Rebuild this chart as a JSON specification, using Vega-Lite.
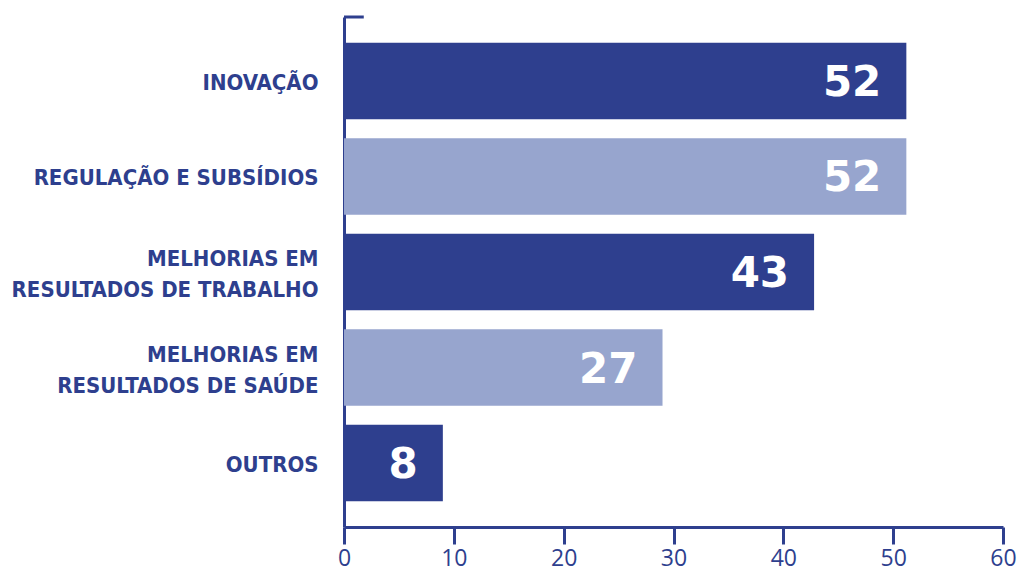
{
  "$schema": "https://vega.github.io/schema/vega-lite/v6.json",
  "width": 659,
  "height": 510,
  "autosize": {"type": "none"},
  "padding": {"left": 344, "top": 17, "right": 18, "bottom": 45},
  "background": "white",
  "config": {"view": {"stroke": null}},
  "data": {"values": [
    {"cat": "INOVAÇÃO", "value": 51.2, "label": "52"},
    {"cat": "REGULAÇÃO E SUBSÍDIOS", "value": 51.2, "label": "52"},
    {"cat": "MELHORIAS EM \nRESULTADOS DE TRABALHO", "value": 42.8, "label": "43"},
    {"cat": "MELHORIAS EM \nRESULTADOS DE SAÚDE", "value": 29, "label": "27"},
    {"cat": "OUTROS", "value": 9, "label": "8"}
  ]},
  "resolve": {"scale": {"y": "independent"}},
  "layer": [
    {
      "layer": [
        {
          "mark": {"type": "bar"},
          "encoding": {
            "y": {"field": "cat", "type": "nominal", "sort": null,
              "scale": {"paddingInner": 0.2, "paddingOuter": 0.27},
              "axis": {"title": null, "labelExpr": "split(datum.label, '\\n')", "labelFont": "DejaVu Sans Condensed", "labelFontSize": 22, "labelFontWeight": "bold", "labelColor": "#2e3f8e", "labelLineHeight": 31, "ticks": false, "labelPadding": 26, "domainColor": "#2e3f8e", "domainWidth": 3, "labelLimit": 400,
                "labelOffset": {"condition": {"test": "indexof(datum.value, '\\n') >= 0", "value": -13}, "value": 2}}},
            "x": {"field": "value", "type": "quantitative",
              "scale": {"domain": [0, 60], "nice": false},
              "axis": {"title": null, "values": [0, 10, 20, 30, 40, 50, 60], "grid": false, "labelFont": "Open Sans", "labelFontSize": 23, "labelColor": "#2e3f8e", "tickColor": "#2e3f8e", "tickWidth": 3, "tickSize": 17, "labelPadding": 3, "domainColor": "#2e3f8e", "domainWidth": 3, "labelFlush": false}},
            "color": {"field": "cat", "type": "nominal", "sort": null,
              "scale": {"range": ["#2e3f8e", "#97a5ce", "#2e3f8e", "#97a5ce", "#2e3f8e"]},
              "legend": null}
          }
        },
        {
          "mark": {"type": "text", "align": "right", "baseline": "middle", "dx": -25, "dy": 2, "font": "DejaVu Sans", "fontWeight": "bold", "fontSize": 42, "fill": "white"},
          "encoding": {
            "y": {"field": "cat", "type": "nominal", "sort": null},
            "x": {"field": "value", "type": "quantitative"},
            "text": {"field": "label"}
          }
        }
      ]
    },
    {
      "data": {"values": [{"a": 0, "b": 1.8, "t": 1}]},
      "mark": {"type": "rule", "color": "#2e3f8e", "strokeWidth": 3},
      "encoding": {
        "x": {"field": "a", "type": "quantitative"},
        "x2": {"field": "b"},
        "y": {"field": "t", "type": "quantitative", "scale": {"domain": [0, 1], "nice": false}, "axis": null}
      }
    }
  ]
}
